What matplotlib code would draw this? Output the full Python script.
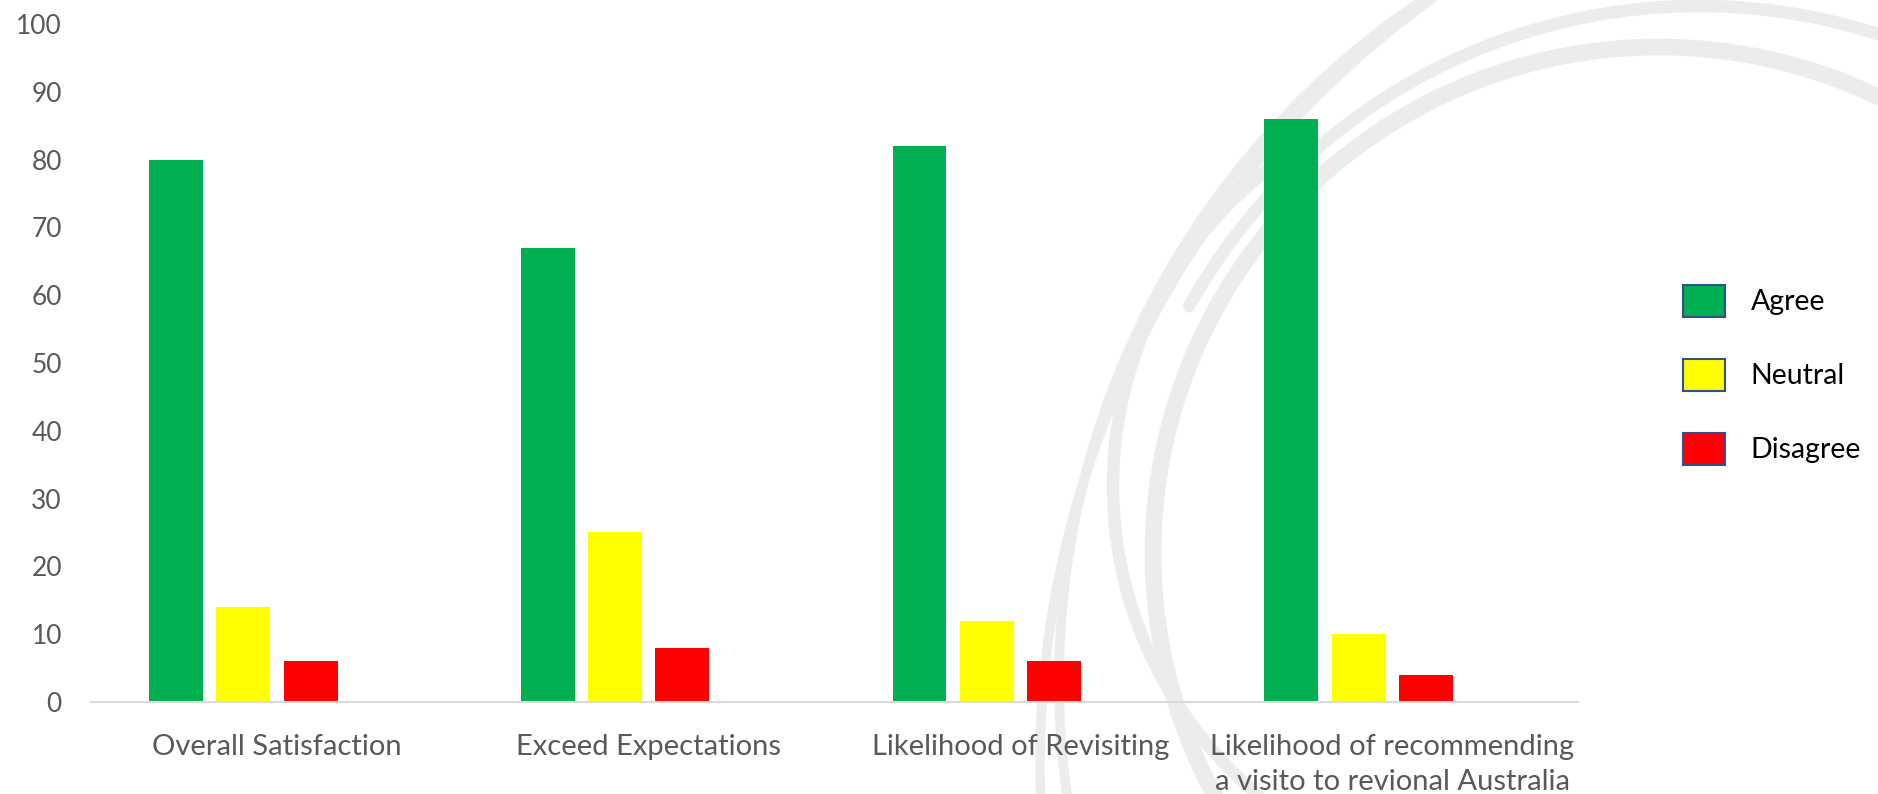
import numpy as np
import matplotlib.pyplot as plt

categories = ["Overall Satisfaction", "Exceed Expectations",
              "Likelihood of Revisiting",
              "Likelihood of recommending\na visito to revional Australia"]
agree = [80, 67, 82, 86]
neutral = [14, 25, 12, 10]
disagree = [6, 8, 6, 4]
yticks = list(range(0, 101, 10))

plt.rcParams['font.family'] = ['Lato', 'DejaVu Sans']

fig = plt.figure(figsize=(18.78, 7.94), dpi=100)

# faint swirl watermark behind the chart (pixel space, y down)
bg = fig.add_axes([0, 0, 1, 1], zorder=0)
bg.set_xlim(0, 1878)
bg.set_ylim(794, 0)
bg.axis('off')
swirl = [
    # cx, cy, r, start deg, end deg, width
    (1985, 765, 945, 170, 240, 7),
    (1878, 681, 819, 170, 245, 7),
    (1514, 486, 401, 125, 232, 9),
    (1699, 589, 583, 209, 300, 9),
    (1659, 553, 506, 150, 300, 12),
]
for cx, cy, r, t0, t1, lw in swirl:
    t = np.radians(np.linspace(t0, t1, 400))
    bg.plot(cx + r * np.cos(t), cy + r * np.sin(t), color='#ECECEC',
            lw=lw, solid_capstyle='round')

ax = fig.add_axes([0.0485, 0.1159, 0.7918, 0.8539], zorder=1)
ax.patch.set_alpha(0)

x = np.arange(len(categories))
step, width = 0.181, 0.145
series = [("Agree", agree, '#00B050'),
          ("Neutral", neutral, '#FFFF00'),
          ("Disagree", disagree, '#FF0000')]
for i, (name, vals, col) in enumerate(series):
    ax.bar(x + (i - 1.5) * step, vals, width, color=col, label=name)

ax.set_xlim(-0.5, 3.5)
ax.set_ylim(0, 100)
ax.set_yticks(yticks)
ax.set_xticks(x)
ax.set_xticklabels(categories, multialignment='center', linespacing=1.45)
ax.tick_params(axis='y', length=0, pad=21, labelsize=19, labelcolor='#595959')
ax.tick_params(axis='x', length=0, pad=23, labelsize=21, labelcolor='#595959')
for side in ['top', 'right', 'left']:
    ax.spines[side].set_visible(False)
ax.spines['bottom'].set_color('#D9D9D9')
ax.spines['bottom'].set_linewidth(1.5)

# legend on the right, boxed swatches
handles = [plt.Rectangle((0, 0), 1, 1, facecolor=c, edgecolor='#2F528F', lw=1.5)
           for _, _, c in series]
fig.legend(handles, [s[0] for s in series], loc='center left',
           bbox_to_anchor=(0.896, 0.528), frameon=False, fontsize=20.5,
           handlelength=1.47, handleheight=1.35, handletextpad=0.92,
           labelspacing=1.47, borderpad=0, borderaxespad=0)

fig.savefig('out.png', dpi=100)
